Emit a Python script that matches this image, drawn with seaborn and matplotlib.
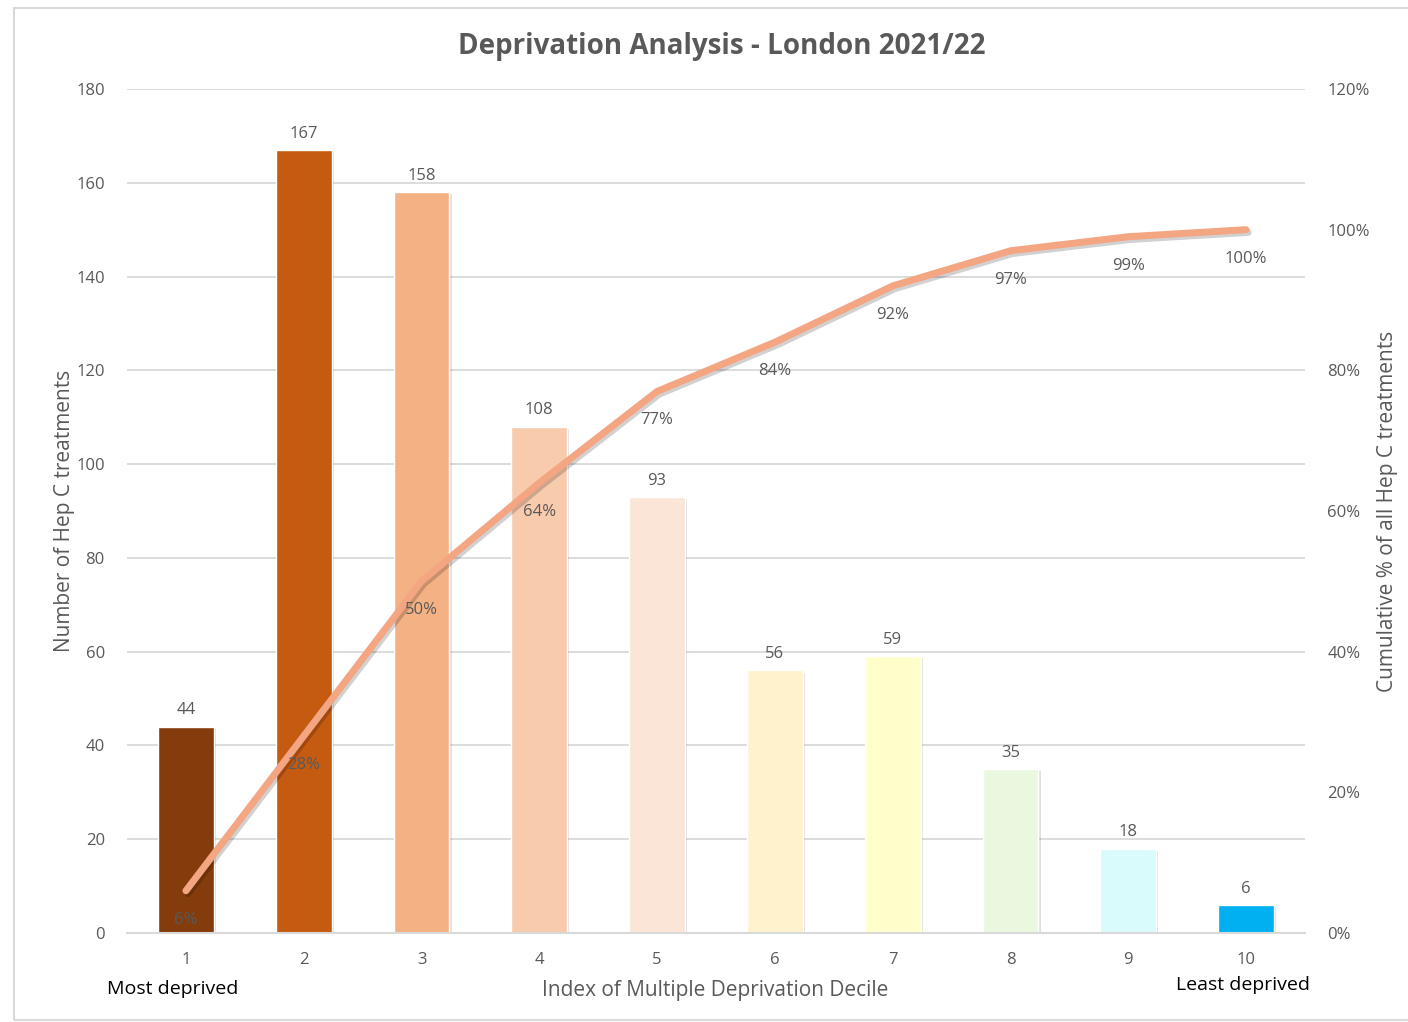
import matplotlib
matplotlib.use("Agg")
import matplotlib.pyplot as plt
import matplotlib.patheffects as pe
from matplotlib.patches import Rectangle
from matplotlib.ticker import FuncFormatter, MultipleLocator
import seaborn as sns
import pandas as pd

# IMD decile counts of Hep C treatments, London 2021/22
deciles = ["1", "2", "3", "4", "5", "6", "7", "8", "9", "10"]
treatments = [44, 167, 158, 108, 93, 56, 59, 35, 18, 6]
cumulative_pct = [6, 28, 50, 64, 77, 84, 92, 97, 99, 100]
bar_colors = ["#843C0C", "#C55A11", "#F4B183", "#F8CBAD", "#FBE5D6",
              "#FFF2CC", "#FFFFCC", "#EBF8E0", "#D9FBFB", "#00B0F0"]

df = pd.DataFrame({"decile": deciles, "count": treatments,
                   "cum": cumulative_pct})

sns.set_theme(style="white")
plt.rcParams["font.family"] = ["Open Sans", "DejaVu Sans"]

TXT = "#595959"
GRID = "#D9D9D9"

fig = plt.figure(figsize=(14.08, 10.22), dpi=100)
ax = fig.add_axes([127 / 1408, (1022 - 933) / 1022,
                   (1305 - 127) / 1408, (933 - 89) / 1022])

# outer chart frame
fig.add_artist(Rectangle((14 / 1408, 2 / 1022), 1.2, (1014 - 2) / 1022,
                         transform=fig.transFigure, fill=False,
                         edgecolor="#D9D9D9", linewidth=1.5, clip_on=False))

sns.barplot(data=df, x="decile", y="count", hue="decile",
            palette=bar_colors, width=0.475, legend=False, ax=ax,
            saturation=1, zorder=2)
for p in ax.patches:
    p.set_path_effects([pe.SimplePatchShadow(offset=(1.5, -1.5),
                                             shadow_rgbFace="#000000",
                                             alpha=0.12), pe.Normal()])

ax.set_ylim(0, 180)
ax.set_xlim(-0.5, 9.5)
ax.yaxis.set_major_locator(MultipleLocator(20))
ax.grid(axis="y", color=GRID, linewidth=1.3, zorder=0)
ax.set_axisbelow(True)
for s in ["top", "right", "left"]:
    ax.spines[s].set_visible(False)
ax.spines["bottom"].set_color(GRID)
ax.spines["bottom"].set_linewidth(1.5)
ax.tick_params(axis="both", length=0, labelsize=12, colors=TXT)
ax.tick_params(axis="y", pad=16)
ax.tick_params(axis="x", pad=14)
ax.set_xlabel("")
ax.set_ylabel("Number of Hep C treatments", fontsize=15, color=TXT,
              labelpad=1)

for i, v in enumerate(treatments):
    ax.annotate(str(v), (i, v), xytext=(0, 6), textcoords="offset points",
                ha="center", va="bottom", fontsize=12, color=TXT)

# cumulative share on the secondary axis
ax2 = ax.twinx()
sns.lineplot(x=list(range(len(deciles))), y=cumulative_pct, ax=ax2,
             color="#F4A582", linewidth=5, solid_capstyle="round",
             zorder=3,
             path_effects=[pe.SimpleLineShadow(offset=(1.5, -2),
                                               shadow_color="#000000",
                                               alpha=0.18), pe.Normal()])
ax2.set_ylim(0, 120)
ax2.yaxis.set_major_locator(MultipleLocator(20))
ax2.yaxis.set_major_formatter(FuncFormatter(lambda v, _: f"{v:.0f}%"))
for s in ax2.spines.values():
    s.set_visible(False)
ax2.tick_params(axis="y", length=0, labelsize=12, colors=TXT, pad=16)
ax2.grid(False)
ax2.set_ylabel("Cumulative % of all Hep C treatments", fontsize=15,
               color=TXT, labelpad=5)
for i, v in enumerate(cumulative_pct):
    ax2.annotate(f"{v}%", (i, v), xytext=(0, -15), textcoords="offset points",
                 ha="center", va="top", fontsize=12, color=TXT)

fig.text(715 / 1408, 1 - 990 / 1022, "Index of Multiple Deprivation Decile",
         ha="center", va="center", fontsize=15, color=TXT)
fig.text(173 / 1408, 1 - 989 / 1022, "Most deprived", ha="center",
         va="center", fontsize=14, color="#000000")
fig.text(1243 / 1408, 1 - 985 / 1022, "Least deprived", ha="center",
         va="center", fontsize=14, color="#000000")
fig.text(722 / 1408, 1 - 46 / 1022, "Deprivation Analysis - London 2021/22",
         ha="center", va="center", fontsize=20, fontweight="bold", color=TXT)

fig.savefig("out.png", dpi=100)
